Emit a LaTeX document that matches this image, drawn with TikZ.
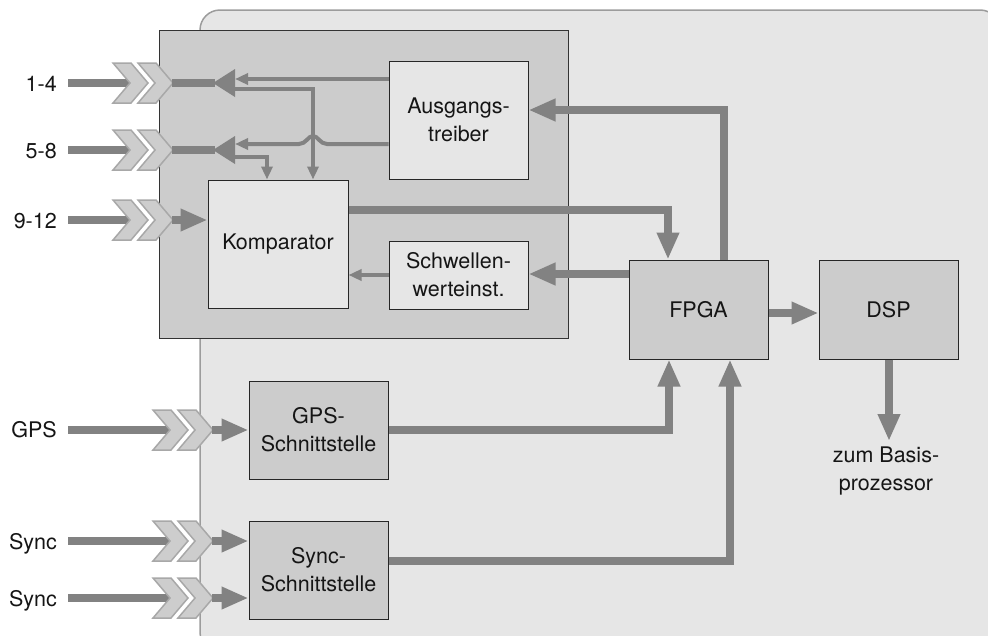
\documentclass[tikz,border=0pt]{standalone}
\usepackage{fontspec}
\setmainfont{TeX Gyre Heros}
\usetikzlibrary{arrows.meta}
\definecolor{wirec}{HTML}{828282}
\definecolor{lightf}{HTML}{E6E6E6}
\definecolor{darkf}{HTML}{CCCCCC}
\definecolor{outerl}{HTML}{9C9C9C}
\definecolor{chevf}{HTML}{CDCDCD}
\definecolor{chevl}{HTML}{A8A8A8}
\definecolor{txtc}{HTML}{151515}
\newcommand\mychev[2]{\filldraw[chev] (#1,#2-20) -- ++(18,0) -- ++(17,20) -- ++(-17,20) -- ++(-18,0) -- ++(17,-20) -- cycle;}
\begin{document}
\begin{tikzpicture}[x=1pt,y=-1pt,
  every node/.style={font=\fontsize{21.5}{28}\selectfont, text=txtc},
  outerbox/.style={fill=lightf, draw=outerl, line width=1.5pt, rounded corners=20pt},
  innerbox/.style={fill=darkf, draw=black!80, line width=1pt},
  lbox/.style={fill=lightf, draw=black!85, line width=1pt, align=center, inner sep=0pt},
  dbox/.style={fill=darkf, draw=black!85, line width=1pt, align=center, inner sep=0pt},
  wire/.style={draw=wirec, line width=7.5pt},
  thinwire/.style={draw=wirec, line width=4pt},
  bigtip/.style={-{Triangle[length=27pt,width=21pt]}},
  smalltip/.style={-{Triangle[length=13pt,width=11pt]}},
  chev/.style={fill=chevf, draw=chevl, line width=1.5pt},
  lbl/.style={anchor=base east, inner sep=0pt},
  txt/.style={align=center, inner sep=0pt}
]
\useasboundingbox (0,0) rectangle (988,635);
\clip (0,0) rectangle (988,635);
\draw[outerbox] (200,10) rectangle (1000,652);
\draw[innerbox] (159,30) rectangle (568,338);

% boxes
\node[lbox, minimum width=139pt, minimum height=118pt] (ausg) at (458.5,120) {Ausgangs-\\treiber};
\node[lbox, minimum width=140pt, minimum height=128pt] (komp) at (278,244) {Komparator};
\node[lbox, minimum width=139pt, minimum height=68pt] (schw) at (458.5,275) {Schwellen-\\werteinst.};
\node[dbox, minimum width=139pt, minimum height=99pt] (fpga) at (698.5,309.5) {FPGA};
\node[dbox, minimum width=139pt, minimum height=99pt] (dsp) at (888.5,309.5) {DSP};
\node[dbox, minimum width=139pt, minimum height=98pt] (gps) at (318.5,430) {GPS-\\Schnittstelle};
\node[dbox, minimum width=139pt, minimum height=98pt] (sync) at (318.5,570) {Sync-\\Schnittstelle};
\node[txt] (basis) at (886,471) {zum Basis-\\prozessor};
\coordinate (basisin) at (889,441);

% internal wires
\draw[wire, bigtip] (komp.east |- 0,210) -| (fpga.north -| 668,0);
\draw[wire, bigtip] (fpga.west |- 0,274) -- (schw.east |- 0,274);
\draw[thinwire, smalltip] (schw.west |- 0,275) -- (komp.east |- 0,275);
\draw[wire, bigtip] (fpga.north -| 724,0) |- (ausg.east |- 0,110);
\draw[wire, bigtip] (fpga.east |- 0,313) -- (dsp.west |- 0,313);
\draw[wire, bigtip] (dsp.south -| 889,0) -- (basisin);
\draw[wire, bigtip] (gps.east |- 0,430) -| (fpga.south -| 669,0);
\draw[wire, bigtip] (sync.east |- 0,561) -| (fpga.south -| 730,0);

% labels
\node[lbl] (t1) at (57,91) {1-4};
\node[lbl] (t2) at (57,158) {5-8};
\node[lbl] (t3) at (57,228) {9-12};
\node[lbl] (t4) at (57,437.5) {GPS};
\node[lbl] (t5) at (57,549) {Sync};
\node[lbl] (t6) at (57,606) {Sync};

% pins 1-4, 5-8, 9-12
\foreach \yy in {83,150,220} {
  \draw[wire] (68,\yy) -- (131,\yy);
  \mychev{113}{\yy}
  \mychev{138}{\yy}
}
\foreach \yy in {83,150} {
  \draw[wire] (172,\yy) -- (215,\yy);
  \fill[wirec] (213,\yy) -- (235,\yy-14) -- (235,\yy+14) -- cycle;
}
\draw[wire, bigtip] (172,220) -- (komp.west |- 0,220);

% thin wires near pins
\draw[thinwire, smalltip] (ausg.west |- 0,79) -- (235,79);
\draw[thinwire, smalltip] (235,89) -| (komp.north -| 313,0);
\draw[thinwire, smalltip] (ausg.west |- 0,144) -- (327,144) .. controls (320,144) and (318,136) .. (313,136) .. controls (308,136) and (306,144) .. (299,144) -- (235,144);
\draw[thinwire, smalltip] (235,157) -| (komp.north -| 267,0);

% GPS and Sync inputs
\foreach \yy/\tg in {430/gps,541/sync,598/sync} {
  \draw[wire] (68,\yy) -- (171,\yy);
  \mychev{153}{\yy}
  \mychev{178}{\yy}
  \draw[wire, bigtip] (212,\yy) -- (\tg.west |- 0,\yy);
}
\end{tikzpicture}
\end{document}
